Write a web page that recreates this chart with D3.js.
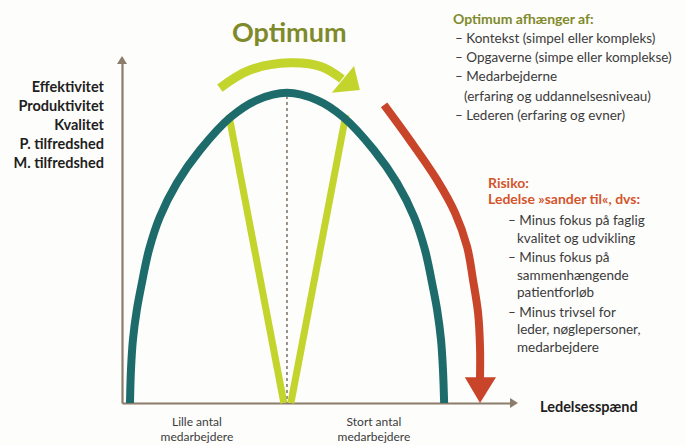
<!DOCTYPE html>
<html>
<head>
<meta charset="utf-8">
<script src="https://cdn.jsdelivr.net/npm/d3@7"></script>
<style>
  body { margin: 0; background: #fdfdfb; }
  svg { display: block; font-family: Lato, "Open Sans", sans-serif; }
</style>
</head>
<body>
<svg id="chart" width="685" height="445"></svg>
<script>
// Left axis labels
var yLabels = ["Effektivitet", "Produktivitet", "Kvalitet", "P. tilfredshed", "M. tilfredshed"];
var xLabels = [["Lille antal", "medarbejdere"], ["Stort antal", "medarbejdere"]];
var xLabelPos = [19.2, 64.6];

var optimumTitle = "Optimum afhænger af:";
var optimumItems = [
    ["– Kontekst (simpel eller kompleks)"],
    ["– Opgaverne (simpe eller komplekse)"],
    ["– Medarbejderne", "(erfaring og uddannelsesniveau)"],
    ["– Lederen (erfaring og evner)"]
];
var risikoTitle = ["Risiko:", "Ledelse »sander til«, dvs:"];
var risikoItems = [
    ["– Minus fokus på faglig", "kvalitet og udvikling"],
    ["– Minus fokus på", "sammenhængende", "patientforløb"],
    ["– Minus trivsel for", "leder, nøglepersoner,", "medarbejdere"]
];

// Curves, in axis units (0-100 on both axes)
var arch = [[2.05, 0], [2.3, 9.6], [2.8, 18.3], [3.8, 27.0], [5.1, 34.8], [6.9, 44.3],
    [9.7, 53.9], [14.1, 63.8], [20.0, 73.3], [27.9, 82.9], [34.6, 87.8], [42.3, 89.9],
    [50.0, 87.8], [56.7, 82.9], [64.6, 73.3], [70.5, 63.8], [74.9, 53.9], [77.7, 44.3],
    [79.5, 34.8], [80.8, 27.0], [81.8, 18.3], [82.3, 9.6], [82.6, 0]];
var vLeft  = [[27.4, 83.5], [41.5, 0]];
var vRight = [[57.4, 83.5], [43.3, 0]];
var optimumLine = [42.3, 89.0];

var optArrow = [[25.1, 91.3], [32.8, 96.5], [43.1, 98.6], [51.3, 97.4], [56.4, 93.9]];
var optHead  = [[59.5, 97.7], [61.0, 90.7], [53.8, 89.9]];
var riskArrow = [[67.2, 86.4], [73.8, 76.2], [80.8, 64.6], [85.4, 55.1], [88.5, 45.2],
    [90.0, 35.7], [91.3, 26.1], [91.8, 16.2], [91.8, 7.2]];
var riskHead = [[87.9, 7.5], [95.9, 7.5], [91.8, 0]];

var colors = { axis: "#8c7c6c", teal: "#1e6b6c", green: "#c3d42c", red: "#c9452a",
               olive: "#7f8a2b", redText: "#d4552d", text: "#3b3b3b", dark: "#1f1f1f" };

var svg = d3.select("#chart");

var x = d3.scaleLinear().domain([0, 100]).range([122, 512]);
var y = d3.scaleLinear().domain([0, 100]).range([403, 58]);

var line = d3.line().x(d => x(d[0])).y(d => y(d[1])).curve(d3.curveCatmullRom);
var straight = d3.line().x(d => x(d[0])).y(d => y(d[1]));

// Axes (no ticks, only the lines with arrowheads)
svg.append("g")
    .attr("transform", "translate(0," + y(0) + ")")
    .call(d3.axisBottom(x).tickValues([]).tickSizeOuter(0));
svg.append("g")
    .attr("transform", "translate(" + x(0) + ",0)")
    .call(d3.axisLeft(y).tickValues([]).tickSizeOuter(0));
svg.selectAll(".domain").style("stroke", colors.axis).style("stroke-width", 2.2);

svg.append("path")
    .attr("d", "M" + (x(100) - 2) + "," + (y(0) - 5) + "L" + (x(100) + 6) + "," + y(0) + "L" + (x(100) - 2) + "," + (y(0) + 5) + "Z")
    .style("fill", colors.axis);
svg.append("path")
    .attr("d", "M" + (x(0) - 5) + "," + (y(100) + 6) + "L" + x(0) + "," + (y(100) - 2) + "L" + (x(0) + 5) + "," + (y(100) + 6) + "Z")
    .style("fill", colors.axis);

// Dashed optimum line
svg.append("line")
    .attr("x1", x(optimumLine[0])).attr("x2", x(optimumLine[0]))
    .attr("y1", y(optimumLine[1])).attr("y2", y(0))
    .style("stroke", "#7a6e64").style("stroke-width", 1.5)
    .style("stroke-dasharray", "3,3");

// Green V
[vLeft, vRight].forEach(function(v) {
    svg.append("path").attr("d", straight(v))
        .style("fill", "none").style("stroke", colors.green).style("stroke-width", 7);
});

// Teal arch
svg.append("path").attr("d", line(arch))
    .style("fill", "none").style("stroke", colors.teal).style("stroke-width", 8);

// Green arrow
svg.append("path").attr("d", line(optArrow))
    .style("fill", "none").style("stroke", colors.green).style("stroke-width", 9);
svg.append("path").attr("d", straight(optHead) + "Z").style("fill", colors.green);

// Red arrow
svg.append("path").attr("d", line(riskArrow))
    .style("fill", "none").style("stroke", colors.red).style("stroke-width", 8);
svg.append("path").attr("d", straight(riskHead) + "Z").style("fill", colors.red);

// Title
svg.append("text")
    .attr("x", 232).attr("y", 42)
    .style("font-size", "27px").style("font-weight", "bold")
    .style("fill", colors.olive)
    .text("Optimum");

// Left labels
svg.selectAll(".ylab").data(yLabels).enter().append("text")
    .attr("class", "ylab")
    .attr("x", 104).attr("y", (d, i) => 92 + i * 19)
    .attr("text-anchor", "end")
    .style("font-size", "14.5px").style("font-weight", "bold")
    .style("fill", colors.dark)
    .text(d => d);

// X labels
xLabels.forEach(function(lab, i) {
    lab.forEach(function(t, j) {
        svg.append("text")
            .attr("x", x(xLabelPos[i])).attr("y", 426 + j * 15)
            .attr("text-anchor", "middle")
            .style("font-size", "12px").style("fill", colors.text)
            .text(t);
    });
});
svg.append("text")
    .attr("x", 540).attr("y", 412)
    .style("font-size", "14.5px").style("font-weight", "bold")
    .style("fill", colors.dark)
    .text("Ledelsesspænd");

// Optimum list
svg.append("text")
    .attr("x", 453).attr("y", 24)
    .style("font-size", "14px").style("font-weight", "bold")
    .style("fill", colors.olive)
    .text(optimumTitle);
var row = 0;
optimumItems.forEach(function(item) {
    item.forEach(function(t, j) {
        svg.append("text")
            .attr("x", j === 0 ? 455 : 464).attr("y", 43 + row * 19.2)
            .style("font-size", "13.5px").style("fill", colors.text)
            .text(t);
        row++;
    });
});

// Risiko list
risikoTitle.forEach(function(t, i) {
    svg.append("text")
        .attr("x", 488).attr("y", 188 + i * 15.5)
        .style("font-size", "14px").style("font-weight", "bold")
        .style("fill", colors.redText)
        .text(t);
});
var yy = 225;
risikoItems.forEach(function(item) {
    item.forEach(function(t, j) {
        svg.append("text")
            .attr("x", j === 0 ? 508 : 517).attr("y", yy)
            .style("font-size", "13.5px").style("fill", colors.text)
            .text(t);
        yy += 17.5;
    });
    yy += 2;
});
</script>
</body>
</html>
